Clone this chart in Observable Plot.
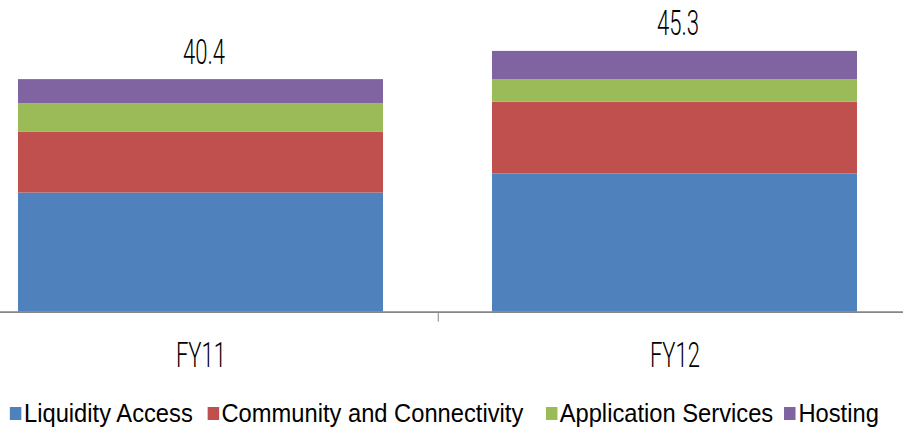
<!DOCTYPE html>
<html><head><meta charset="utf-8">
<script src="https://cdn.jsdelivr.net/npm/d3@7"></script>
<script src="https://cdn.jsdelivr.net/npm/@observablehq/plot@0.6"></script>
<style>
html,body{margin:0;padding:0;background:#fff;overflow:hidden;}
#chart svg{display:block;}
#legendWrap{width:1100px;transform:scaleX(0.895);transform-origin:0 0;padding-left:11.2px;box-sizing:border-box;}
#legendWrap > div{font-family:"Liberation Sans",Arial,sans-serif !important;font-size:26.5px !important;color:#000 !important;margin:0 !important;flex-wrap:nowrap !important;min-height:33px !important;display:flex !important;align-items:center !important;}
#legendWrap > div > span{margin-right:16.4px !important;display:inline-flex !important;align-items:center !important;white-space:nowrap;font-size:26.5px !important;}
#legendWrap > div > span:nth-of-type(2){margin-right:25px !important;}
#legendWrap > div > span:nth-of-type(3){margin-right:12.5px !important;}
#legendWrap > div > span > svg{margin-right:2.8px !important;}
</style></head><body>
<div id="chart"></div><div id="legendWrap"></div>
<script>
const categories = ["FY11", "FY12"];
const seriesNames = ["Liquidity Access", "Community and Connectivity", "Application Services", "Hosting"];
const liquidityAccess = [20.7, 24.0];
const communityConnectivity = [10.6, 12.5];
const applicationServices = [4.9, 3.9];
const hosting = [4.2, 4.9];
const totals = [40.4, 45.3];
const colors = ["#4F81BD", "#C0504D", "#9BBB59", "#8064A2"];

const seriesValues = [liquidityAccess, communityConnectivity, applicationServices, hosting];
const rows = [];
seriesNames.forEach((s, i) => categories.forEach((c, j) => rows.push({category: c, series: s, value: seriesValues[i][j]})));
const totalRows = categories.map((c, j) => ({category: c, total: totals[j]}));

const W = 903, H = 397;
const xRange = [-36.75, 912.25];
const padInner = 0.23;
const step = (xRange[1] - xRange[0]) / categories.length;
const labelFont = "Roboto, 'Liberation Sans', sans-serif";
const condense = 0.63;

const chart = Plot.plot({
  width: W, height: H, margin: 0,
  style: {background: "#fff", overflow: "visible"},
  x: {domain: categories, range: xRange, paddingInner: padInner, paddingOuter: padInner / 2, axis: null},
  y: {domain: [0, 50], range: [311.7, 23.85], axis: null},
  color: {domain: seriesNames, range: colors},
  marks: [
    Plot.barY(rows, {x: "category", y: "value", fill: "series"}),
    Plot.ruleY([0], {stroke: "#868686", strokeWidth: 1.75}),
    Plot.ruleX([categories[0]], {y1: 0, y2: 0, dx: step / 2, insetTop: 10, stroke: "#868686", strokeWidth: 1}),
    Plot.text(totalRows, {x: "category", y: "total", text: d => d.total.toFixed(1), lineAnchor: "bottom", dy: -16, dx: 3, fontSize: 35, fontFamily: labelFont, fontWeight: 300, fill: "#000"}),
    Plot.text(categories, {x: d => d, y: 0, text: d => d, lineAnchor: "bottom", dy: 55, fontSize: 35, fontFamily: labelFont, fontWeight: 300, fill: "#000"})
  ]
});
document.getElementById("chart").appendChild(chart);
chart.querySelectorAll('g[aria-label="text"] text').forEach(t => {
  const L = t.getComputedTextLength();
  t.setAttribute("textLength", (L * condense).toFixed(2));
  t.setAttribute("lengthAdjust", "spacingAndGlyphs");
});
const legend = chart.legend("color", {swatchWidth: 12.85, swatchHeight: 13});
document.getElementById("legendWrap").appendChild(legend);
</script>
</body></html>
